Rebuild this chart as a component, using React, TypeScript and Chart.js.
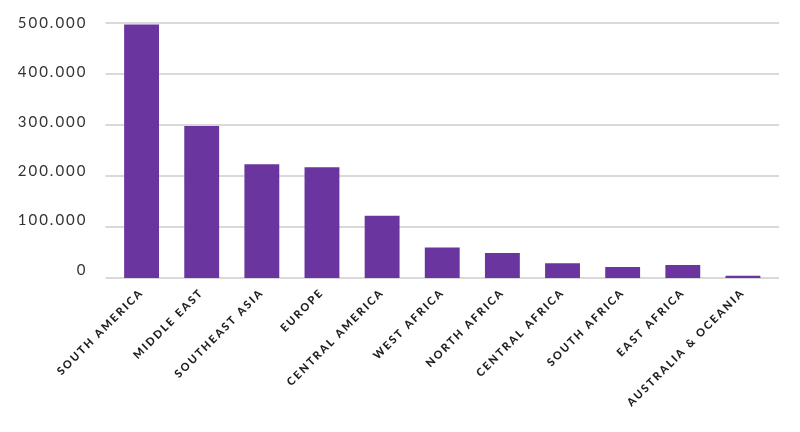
import React, { useEffect, useRef } from "react";
import { Chart, registerables } from "chart.js";

Chart.register(...registerables);

const categories = [
  "SOUTH AMERICA",
  "MIDDLE EAST",
  "SOUTHEAST ASIA",
  "EUROPE",
  "CENTRAL AMERICA",
  "WEST AFRICA",
  "NORTH AFRICA",
  "CENTRAL AFRICA",
  "SOUTH AFRICA",
  "EAST AFRICA",
  "AUSTRALIA & OCEANIA",
];
const values = [497000, 298000, 223000, 217000, 122000, 60000, 49000, 29000, 21500, 25500, 4500];
const yTicks = [0, 100000, 200000, 300000, 400000, 500000];
// the labels in the source sit slightly above their grid lines, drifting toward the bottom
const labelAxisMin = -16200;

const fmt = (v: number) => (v === 0 ? "0" : v.toLocaleString("en-US").replace(/,/g, "."));

export default function App() {
  const ref = useRef<HTMLCanvasElement | null>(null);
  useEffect(() => {
    if (!ref.current) return;
    const spacing = {
      id: "spacing",
      beforeLayout(chart: any) {
        chart.ctx.letterSpacing = "2px";
      },
      beforeDraw(chart: any) {
        const ctx = chart.ctx;
        ctx.letterSpacing = "2px";
        const y = chart.scales.y;
        const area = chart.chartArea;
        ctx.save();
        ctx.strokeStyle = "#d9d9d9";
        ctx.lineWidth = 2;
        for (const t of yTicks) {
          const py = Math.round(y.getPixelForValue(t));
          ctx.beginPath();
          ctx.moveTo(area.left - 6, py);
          ctx.lineTo(area.right + 6, py);
          ctx.stroke();
        }
        ctx.restore();
      },
    };
    const chart = new Chart(ref.current, {
      type: "bar",
      data: {
        labels: categories,
        datasets: [
          {
            data: values,
            yAxisID: "y",
            backgroundColor: "#6a359e",
            borderWidth: 0,
            barPercentage: 0.58,
            categoryPercentage: 1,
          },
        ],
      },
      options: {
        animation: false,
        responsive: false,
        maintainAspectRatio: false,
        layout: { padding: { top: 23, right: 27, left: 0, bottom: 0 } },
        plugins: { legend: { display: false }, tooltip: { enabled: false } },
        scales: {
          x: {
            grid: { display: false, drawTicks: false },
            border: { display: false },
            afterFit: (s: any) => {
              s.height = 154;
              s.paddingLeft = 0;
              s.paddingRight = 0;
            },
            ticks: {
              autoSkip: false,
              maxRotation: 45,
              minRotation: 45,
              padding: 8,
              color: "#1e1e1e",
              font: { family: "Lato", size: 11, weight: 900 },
            },
          },
          y: {
            display: false,
            min: 0,
            max: 500000,
          },
          yl: {
            position: "left",
            min: labelAxisMin,
            max: 500000,
            afterFit: (s: any) => {
              s.width = 111.5;
              s.paddingTop = 0;
              s.paddingBottom = 0;
            },
            afterBuildTicks: (s: any) => {
              s.ticks = yTicks.map((v) => ({ value: v }));
            },
            grid: { display: false, drawTicks: false },
            border: { display: false },
            ticks: {
              padding: 24,
              color: "#333",
              font: { family: "Lato", size: 15 },
              callback: (v: any) => fmt(Number(v)),
            },
          },
        },
      },
      plugins: [spacing],
    });
    return () => chart.destroy();
  }, []);
  return (
    <div style={{ position: "fixed", left: 0, top: 0, width: 800, height: 432, background: "#fff" }}>
      <canvas ref={ref} width={800} height={432} style={{ width: 800, height: 432 }} />
    </div>
  );
}
